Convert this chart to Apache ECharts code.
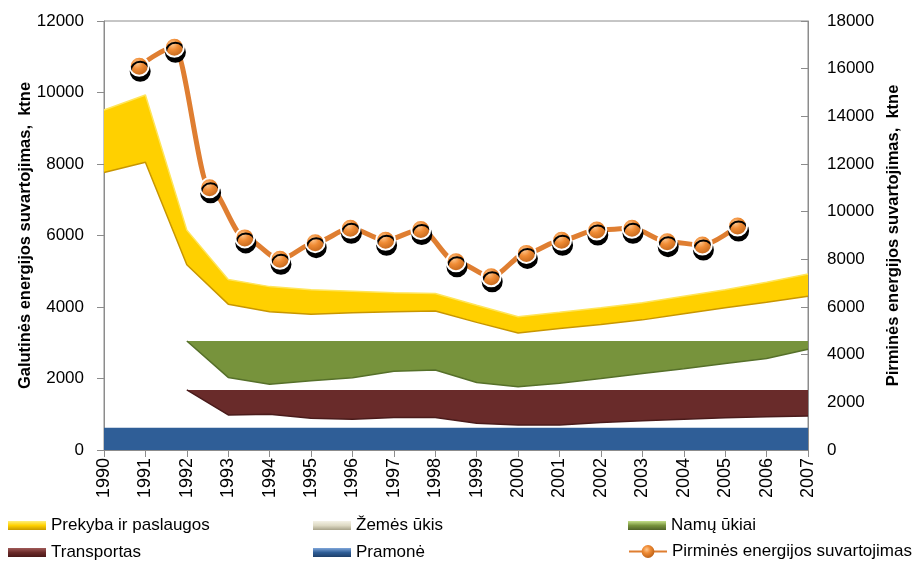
<!DOCTYPE html>
<html>
<head>
<meta charset="utf-8">
<script src="https://cdn.jsdelivr.net/npm/echarts@6/dist/echarts.min.js"></script>
<style>
  html, body { margin: 0; padding: 0; background: #ffffff; }
  #chart { width: 923px; height: 565px; }
</style>
</head>
<body>
<div id="chart"></div>
<script>
// Years on the category axis
const years = ['1990','1991','1992','1993','1994','1995','1996','1997','1998',
               '1999','2000','2001','2002','2003','2004','2005','2006','2007'];

// Final energy consumption bands, ktne (lower and upper edge of each ribbon)
const prekybaLow  = [7760, 8050, 5180, 4080, 3870, 3800, 3840, 3870, 3890, 3570, 3270, 3400, 3510, 3640, 3810, 3980, 4130, 4300];
const prekybaHigh = [9510, 9930, 6150, 4770, 4570, 4480, 4440, 4400, 4380, 4050, 3730, 3850, 3980, 4120, 4300, 4480, 4690, 4920];

const namuLow  = [null, null, 3050, 2030, 1840, 1940, 2020, 2200, 2240, 1890, 1770, 1870, 2000, 2140, 2270, 2420, 2560, 2820];
const namuHigh = [null, null, 3050, 3050, 3050, 3050, 3050, 3050, 3050, 3050, 3050, 3050, 3050, 3050, 3050, 3050, 3050, 3050];

const transportLow  = [null, null, 1680, 980, 1000, 890, 860, 910, 910, 750, 700, 700, 770, 820, 860, 900, 930, 950];
const transportHigh = [null, null, 1680, 1680, 1680, 1680, 1680, 1680, 1680, 1680, 1680, 1680, 1680, 1680, 1680, 1680, 1680, 1680];

const pramoneHigh = [620, 620, 620, 620, 620, 620, 620, 620, 620, 620, 620, 620, 620, 620, 620, 620, 620, 620];

// Žemės ūkis has no visible ribbon
const zemesUkis = years.map(() => null);

// Primary energy consumption, ktne (right axis)
const pirmine = [16100, 16900, 11000, 8900, 8000, 8700, 9300, 8800, 9250, 7900, 7270, 8250, 8800, 9230, 9300, 8740, 8600, 9400];

const leftTicks  = { min: 0, max: 12000, interval: 2000 };
const rightTicks = { min: 0, max: 18000, interval: 2000 };

const FONT = 'Liberation Sans, Arial, sans-serif';

function thickness(low, high) {
  return high.map((h, i) => (h == null || low[i] == null) ? null : h - low[i]);
}
function vgrad(top, mid, bottom) {
  return new echarts.graphic.LinearGradient(0, 0, 0, 1, [
    { offset: 0, color: top }, { offset: 0.5, color: mid }, { offset: 1, color: bottom }
  ]);
}
const plain = v => String(v);

const colYellow = '#FFD000', colGreen = '#77933C', colRed = '#692B2A', colBlue = '#2F5E97', colCream = '#DDD9C3';

const sphere = {
  type: 'radial', x: 0.4, y: 0.35, r: 0.7,
  colorStops: [
    { offset: 0, color: '#FFC890' },
    { offset: 0.4, color: '#F08C35' },
    { offset: 1, color: '#B85D15' }
  ]
};

// Lower edge of a ribbon, drawn only as a thin shaded rim
function baseSeries(id, stack, data, rim) {
  return {
    id: id, type: 'line', stack: stack, data: data,
    symbol: 'none', silent: true, z: 3,
    lineStyle: { color: rim, width: 1.5 },
    emphasis: { disabled: true }
  };
}
function bandSeries(name, stack, data, color, topRim) {
  return {
    name: name, type: 'line', stack: stack, data: data,
    symbol: 'none', z: 2,
    itemStyle: { color: color },
    lineStyle: { color: topRim, width: topRim ? 1.5 : 0 },
    areaStyle: { color: color, opacity: 1 },
    emphasis: { disabled: true }
  };
}

const chart = echarts.init(document.getElementById('chart'), null, { renderer: 'canvas' });

const legendBase = {
  orient: 'vertical', top: 517, padding: 0, itemWidth: 38, itemHeight: 9, itemGap: 10,
  textStyle: { fontFamily: FONT, fontSize: 17, color: '#000', lineHeight: 16 },
  selectedMode: false
};

chart.setOption({
  animation: false,
  backgroundColor: '#ffffff',
  grid: { left: 104, right: 115, top: 21, bottom: 115, show: true, borderColor: '#8c8c8c', borderWidth: 1 },
  legend: [
    Object.assign({}, legendBase, { left: 8, data: [
      { name: 'Prekyba ir paslaugos', icon: 'rect', itemStyle: { color: vgrad('#FFF07A', '#FFD000', '#C89A00') } },
      { name: 'Transportas', icon: 'rect', itemStyle: { color: vgrad('#A05A58', '#6B2B2A', '#4A1818') } }
    ]}),
    Object.assign({}, legendBase, { left: 313, data: [
      { name: 'Žemės ūkis', icon: 'rect', itemStyle: { color: vgrad('#F4F2E6', '#DDD9C3', '#A8A38A') } },
      { name: 'Pramonė', icon: 'rect', itemStyle: { color: vgrad('#7FA6DA', '#2F5E97', '#1E3F6A') } }
    ]}),
    Object.assign({}, legendBase, { left: 628, data: [
      { name: 'Namų ūkiai', icon: 'rect', itemStyle: { color: vgrad('#C5E08A', '#77933C', '#4F6228') } }
    ]}),
    Object.assign({}, legendBase, { left: 628, top: 543, itemHeight: 16, data: [
      { name: 'Pirminės energijos suvartojimas', itemStyle: { color: sphere, borderWidth: 0, shadowOffsetY: 0 } }
    ]})
  ],
  xAxis: [
    {
      type: 'category', data: years, boundaryGap: false,
      axisLine: { lineStyle: { color: '#8c8c8c', width: 1 } },
      axisTick: { show: true, length: 7, lineStyle: { color: '#8c8c8c' } },
      axisLabel: { rotate: 90, margin: 8, fontFamily: FONT, fontSize: 18, color: '#000' },
      splitLine: { show: false }
    },
    { type: 'value', min: 1989, max: 2009, show: false }
  ],
  yAxis: [
    {
      type: 'value', position: 'left',
      min: leftTicks.min, max: leftTicks.max, interval: leftTicks.interval,
      name: 'Galutinės energijos suvartojimas,  ktne',
      nameLocation: 'middle', nameRotate: 90, nameGap: 70, nameMoveOverlap: false,
      nameTextStyle: { fontFamily: FONT, fontSize: 16.5, fontWeight: 'bold', color: '#000' },
      axisLine: { show: true, lineStyle: { color: '#8c8c8c' } },
      axisTick: { show: true, length: 7, lineStyle: { color: '#8c8c8c' } },
      axisLabel: { margin: 20, fontFamily: FONT, fontSize: 17, color: '#000', formatter: plain },
      splitLine: { show: false }
    },
    {
      type: 'value', position: 'right',
      min: rightTicks.min, max: rightTicks.max, interval: rightTicks.interval,
      name: 'Pirminės energijos suvartojimas,  ktne',
      nameLocation: 'middle', nameRotate: 90, nameGap: 77, nameMoveOverlap: false,
      nameTextStyle: { fontFamily: FONT, fontSize: 16.5, fontWeight: 'bold', color: '#000' },
      axisLine: { show: true, lineStyle: { color: '#8c8c8c' } },
      axisTick: { show: true, inside: true, length: 7, lineStyle: { color: '#8c8c8c' } },
      axisLabel: { margin: 19, fontFamily: FONT, fontSize: 17, color: '#000', formatter: plain },
      splitLine: { show: false }
    }
  ],
  series: [
    // Pramonė: flat ribbon on the floor
    {
      name: 'Pramonė', type: 'line', data: pramoneHigh, symbol: 'none', z: 2,
      itemStyle: { color: colBlue },
      lineStyle: { width: 0 },
      areaStyle: { color: colBlue, opacity: 1 },
      emphasis: { disabled: true }
    },
    baseSeries('transportBase', 'transport', transportLow, '#4A1B1B'),
    bandSeries('Transportas', 'transport', thickness(transportLow, transportHigh), colRed, null),
    baseSeries('namuBase', 'namu', namuLow, '#56702A'),
    bandSeries('Namų ūkiai', 'namu', thickness(namuLow, namuHigh), colGreen, null),
    {
      name: 'Žemės ūkis', type: 'line', data: zemesUkis, symbol: 'none',
      itemStyle: { color: colCream }, lineStyle: { width: 0 },
      areaStyle: { color: colCream }
    },
    baseSeries('prekybaBase', 'prekyba', prekybaLow, '#C89600'),
    bandSeries('Prekyba ir paslaugos', 'prekyba', thickness(prekybaLow, prekybaHigh), colYellow, '#FFE55A'),
    // Primary energy consumption on the secondary axes
    {
      name: 'Pirminės energijos suvartojimas', type: 'line',
      xAxisIndex: 1, yAxisIndex: 1, z: 10,
      data: years.map((y, i) => [Number(y), pirmine[i]]),
      smooth: 0.3, smoothMonotone: 'x',
      symbol: 'circle', symbolSize: 19,
      lineStyle: { color: '#DF7E31', width: 5 },
      itemStyle: {
        color: sphere,
        borderColor: '#ffffff', borderWidth: 2,
        shadowColor: '#000000', shadowBlur: 0, shadowOffsetX: 1, shadowOffsetY: 5
      },
      emphasis: { disabled: true }
    }
  ]
});
</script>
</body>
</html>
